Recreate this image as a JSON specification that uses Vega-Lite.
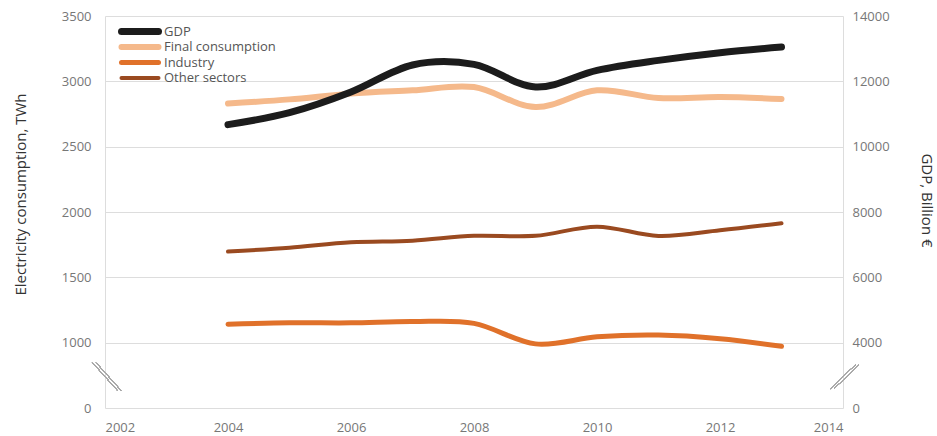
{
  "$schema": "https://vega.github.io/schema/vega-lite/v6.json",
  "width": 738,
  "height": 392,
  "autosize": {"type": "none"},
  "padding": {"left": 105, "top": 16, "right": 94, "bottom": 28},
  "background": "white",
  "config": {"view": {"stroke": null}, "font": "Open Sans"},
  "data": {
    "values": [
      {"year": 2004, "series": "GDP", "value": 10676},
      {"year": 2005, "series": "GDP", "value": 11040},
      {"year": 2006, "series": "GDP", "value": 11673},
      {"year": 2007, "series": "GDP", "value": 12500},
      {"year": 2008, "series": "GDP", "value": 12520},
      {"year": 2009, "series": "GDP", "value": 11826},
      {"year": 2010, "series": "GDP", "value": 12336},
      {"year": 2011, "series": "GDP", "value": 12642},
      {"year": 2012, "series": "GDP", "value": 12878},
      {"year": 2013, "series": "GDP", "value": 13049},
      {"year": 2004, "series": "Final consumption", "value": 2830},
      {"year": 2005, "series": "Final consumption", "value": 2862},
      {"year": 2006, "series": "Final consumption", "value": 2906},
      {"year": 2007, "series": "Final consumption", "value": 2931},
      {"year": 2008, "series": "Final consumption", "value": 2956},
      {"year": 2009, "series": "Final consumption", "value": 2803},
      {"year": 2010, "series": "Final consumption", "value": 2931},
      {"year": 2011, "series": "Final consumption", "value": 2872},
      {"year": 2012, "series": "Final consumption", "value": 2880},
      {"year": 2013, "series": "Final consumption", "value": 2865},
      {"year": 2004, "series": "Industry", "value": 1141},
      {"year": 2005, "series": "Industry", "value": 1152},
      {"year": 2006, "series": "Industry", "value": 1152},
      {"year": 2007, "series": "Industry", "value": 1162},
      {"year": 2008, "series": "Industry", "value": 1148},
      {"year": 2009, "series": "Industry", "value": 982},
      {"year": 2010, "series": "Industry", "value": 1045},
      {"year": 2011, "series": "Industry", "value": 1058},
      {"year": 2012, "series": "Industry", "value": 1030},
      {"year": 2013, "series": "Industry", "value": 945},
      {"year": 2004, "series": "Other sectors", "value": 1697},
      {"year": 2005, "series": "Other sectors", "value": 1727},
      {"year": 2006, "series": "Other sectors", "value": 1768},
      {"year": 2007, "series": "Other sectors", "value": 1781},
      {"year": 2008, "series": "Other sectors", "value": 1818},
      {"year": 2009, "series": "Other sectors", "value": 1818},
      {"year": 2010, "series": "Other sectors", "value": 1888},
      {"year": 2011, "series": "Other sectors", "value": 1817},
      {"year": 2012, "series": "Other sectors", "value": 1860},
      {"year": 2013, "series": "Other sectors", "value": 1914}
    ]
  },
  "encoding": {
    "x": {
      "field": "year",
      "type": "quantitative",
      "scale": {"domain": [2002, 2014], "nice": false, "zero": false},
      "axis": {
        "title": null,
        "values": [2002, 2004, 2006, 2008, 2010, 2012, 2014],
        "format": "d",
        "grid": false,
        "domain": false,
        "ticks": false,
        "labelFlush": true,
        "labelPadding": 13,
        "labelFontSize": 13,
        "labelColor": "#777777"
      }
    }
  },
  "layer": [
    {
      "layer": [
        {
          "transform": [{"filter": "datum.series !== 'GDP'"}],
          "mark": {"type": "line", "interpolate": "cardinal", "strokeCap": "round"},
          "encoding": {
            "y": {
              "field": "value",
              "type": "quantitative",
              "scale": {"domain": [0, 1000, 3500], "range": [392, 326.7, 0], "nice": false, "zero": false},
              "axis": {
                "title": "Electricity consumption, TWh",
                "values": [0, 1000, 1500, 2000, 2500, 3000, 3500],
                "format": "d",
                "grid": true,
                "gridColor": "#dddddd",
                "domainColor": "#dddddd",
                "ticks": false,
                "labelPadding": 14,
                "labelFontSize": 13,
                "labelColor": "#777777",
                "titleFontSize": 15,
                "titleFontWeight": "normal",
                "titleColor": "#333333",
                "titleAngle": -90,
                "titleX": -85,
                "titleY": 178,
                "titleAlign": "center",
                "titleBaseline": "middle"
              }
            },
            "color": {
              "field": "series",
              "type": "nominal",
              "scale": {
                "domain": ["GDP", "Final consumption", "Industry", "Other sectors"],
                "range": ["#1c1c1c", "#f5b98b", "#e0712a", "#9a4a20"]
              },
              "legend": {
                "title": null,
                "orient": "none",
                "legendX": 13,
                "legendY": 8,
                "symbolType": "stroke",
                "symbolSize": 1369,
                "symbolStrokeWidth": 4,
                "clipHeight": 15,
                "labelOffset": 2,
                "rowPadding": 0.5,
                "labelFontSize": 13,
                "labelColor": "#555555",
                "encode": {
                  "symbols": {
                    "update": {
                      "strokeWidth": {"signal": "datum.value === 'GDP' ? 7 : 4"},
                      "strokeCap": {"value": "round"}
                    }
                  }
                }
              }
            },
            "strokeWidth": {
              "field": "series",
              "type": "nominal",
              "scale": {
                "domain": ["GDP", "Final consumption", "Industry", "Other sectors"],
                "range": [7, 4, 4, 4]
              },
              "legend": null
            }
          }
        },
        {
          "mark": {"type": "rule", "color": "#aaaaaa", "strokeWidth": 1},
          "encoding": {
            "x": {"datum": 2001.8},
            "x2": {"datum": 2002.2},
            "y": {"datum": 690},
            "y2": {"datum": 270}
          }
        },
        {
          "mark": {"type": "rule", "color": "#aaaaaa", "strokeWidth": 1},
          "encoding": {
            "x": {"datum": 2001.86},
            "x2": {"datum": 2002.26},
            "y": {"datum": 690},
            "y2": {"datum": 270}
          }
        },
        {
          "mark": {"type": "rule", "color": "#aaaaaa", "strokeWidth": 1},
          "encoding": {
            "x": {"datum": 2013.8},
            "x2": {"datum": 2014.2},
            "y": {"datum": 300},
            "y2": {"datum": 660}
          }
        },
        {
          "mark": {"type": "rule", "color": "#aaaaaa", "strokeWidth": 1},
          "encoding": {
            "x": {"datum": 2013.86},
            "x2": {"datum": 2014.26},
            "y": {"datum": 300},
            "y2": {"datum": 660}
          }
        }
      ]
    },
    {
      "transform": [{"filter": "datum.series === 'GDP'"}],
      "mark": {"type": "line", "interpolate": "cardinal", "strokeCap": "round"},
      "encoding": {
        "y": {
          "field": "value",
          "type": "quantitative",
          "scale": {"domain": [0, 4000, 14000], "range": [392, 326.7, 0], "nice": false, "zero": false},
          "axis": {
            "orient": "right",
            "title": "GDP, Billion €",
            "values": [0, 4000, 6000, 8000, 10000, 12000, 14000],
            "format": "d",
            "grid": false,
            "domainColor": "#dddddd",
            "ticks": false,
            "labelPadding": 9,
            "labelFontSize": 13,
            "labelColor": "#777777",
            "titleFontSize": 15,
            "titleFontWeight": "normal",
            "titleColor": "#333333",
            "titleAngle": 90,
            "titleX": 83,
            "titleY": 184,
            "titleAlign": "center",
            "titleBaseline": "middle"
          }
        },
        "color": {"field": "series", "type": "nominal"},
        "strokeWidth": {"field": "series", "type": "nominal", "legend": null}
      }
    }
  ],
  "resolve": {"scale": {"y": "independent"}}
}
